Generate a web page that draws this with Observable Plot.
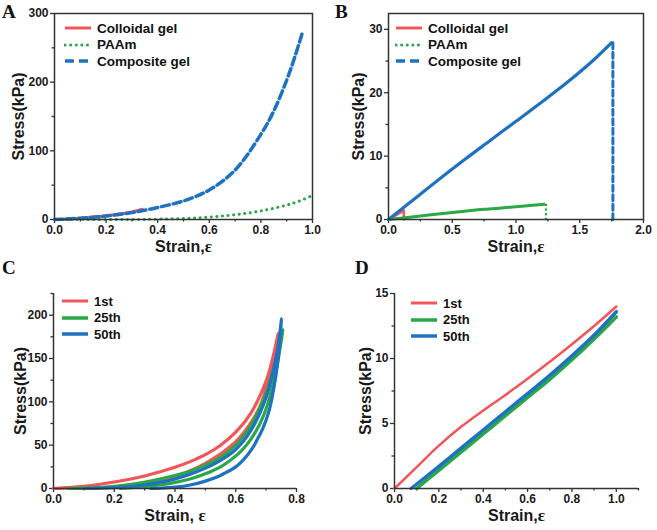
<!DOCTYPE html>
<html>
<head>
<meta charset="utf-8">
<script src="https://cdn.jsdelivr.net/npm/d3@7"></script>
<script src="https://cdn.jsdelivr.net/npm/@observablehq/plot@0.6"></script>
<style>
  body { margin: 0; background: #fff; }
  #root { position: relative; width: 657px; height: 530px; overflow: hidden; background: #fff; }
  .panel { position: absolute; }
  .letter { position: absolute; font: bold 19px "Liberation Serif", "Times New Roman", serif; color: #111; line-height: 1; }
  .legend { position: absolute; font: bold 13.5px "Liberation Sans", Arial, sans-serif; color: #111; }
  .legend.small { font-size: 13px; }
  .legend .row { display: flex; align-items: center; height: 16.5px; white-space: nowrap; }
  .legend svg { display: block; margin-right: 5px; }
</style>
</head>
<body>
<div id="root"></div>
<script>
// ---------------- DATA ----------------
// Panel A (compression, strain vs stress kPa)
const colloidalA = [[0,0],[0.05,0.8],[0.1,2],[0.15,3.5],[0.2,5.5],[0.25,8],[0.3,11],[0.34,15]];
const paamA = [[0,0],[0.3,0],[0.4,0.5],[0.5,1.5],[0.6,3.5],[0.7,7],[0.8,12.5],[0.9,21],[0.95,27],[1.0,35]];
const compositeA = [[0,0],[0.1,1.8],[0.2,5],[0.3,10],[0.35,13.5],[0.4,17.5],[0.5,27],[0.6,43],[0.7,72],[0.8,124],[0.85,158],[0.9,203],[0.93,235],[0.963,275]];

// Panel B (tension)
const colloidalB = [[0,0],[0.06,0.7],[0.118,1.4]];
const colloidalBDrop = [[0.12,1.4],[0.12,0]];
const paamB = [[0,0],[0.25,0.55],[0.5,1.1],[0.75,1.6],[1.0,2.0],[1.22,2.4]];
const paamBDrop = [[1.235,2.3],[1.235,0]];
const compositeB = [[0,0],[0.2,3.2],[0.4,6.4],[0.6,9.5],[0.8,12.5],[1.0,15.5],[1.2,18.5],[1.4,21.6],[1.6,25.0],[1.75,27.9]];
const compositeBDrop = [[1.76,27.9],[1.76,0]];

// Panel C (cyclic compression, loading + unloading)
const cycle1Load = [[0,0],[0.1,2.5],[0.2,7.5],[0.3,14.5],[0.4,24.5],[0.45,31],[0.5,39],[0.55,50],[0.6,65],[0.65,87],[0.7,124],[0.72,148],[0.74,179]];
const cycle1Unload = [[0.74,179],[0.73,160],[0.72,143],[0.7,115],[0.68,95],[0.65,76],[0.6,54],[0.55,40],[0.5,29],[0.45,20.5],[0.4,14],[0.35,9],[0.3,5],[0.2,1.5],[0.1,0.2],[0.05,0]];
const cycle25Load = [[0.05,0],[0.15,1],[0.25,4.5],[0.35,11],[0.45,20],[0.5,27],[0.55,36],[0.6,50],[0.65,73],[0.7,110],[0.72,133],[0.74,160],[0.755,183]];
const cycle25Unload = [[0.755,183],[0.745,160],[0.735,140],[0.72,116],[0.7,92],[0.68,75],[0.65,57],[0.62,44],[0.58,32],[0.55,25],[0.5,17],[0.45,11],[0.4,7],[0.35,4],[0.3,2],[0.22,0]];
const cycle50Load = [[0.1,0],[0.2,1],[0.3,4],[0.35,7],[0.4,11],[0.45,16.5],[0.5,23.5],[0.55,32.5],[0.6,45],[0.65,67],[0.7,105],[0.725,138],[0.74,165],[0.751,196]];
const cycle50Unload = [[0.751,196],[0.746,172],[0.738,145],[0.725,115],[0.71,90],[0.69,70],[0.67,56],[0.654,46],[0.625,33],[0.6,25],[0.56,17],[0.54,13.5],[0.5,8.5],[0.45,4],[0.4,1.5],[0.35,0.3],[0.32,0]];

// Panel D (cyclic tension)
const cycle1D = [[0,0],[0.1,1.65],[0.2,3.3],[0.3,4.75],[0.4,6.0],[0.5,7.2],[0.6,8.45],[0.7,9.75],[0.8,11.1],[0.9,12.5],[1.0,14.0]];
const cycle25D = [[0.1,0],[0.2,1.4],[0.3,2.8],[0.4,4.2],[0.5,5.6],[0.6,7.0],[0.7,8.4],[0.8,9.9],[0.9,11.5],[1.0,13.2]];
const cycle50D = [[0.075,0],[0.2,1.7],[0.3,3.1],[0.4,4.5],[0.5,5.9],[0.6,7.3],[0.7,8.7],[0.8,10.2],[0.9,11.8],[1.0,13.6]];

// Tick values
const ticksA = {x: [0,0.2,0.4,0.6,0.8,1.0], xMinor: [0.1,0.3,0.5,0.7,0.9], y: [0,100,200,300], yMinor: [50,150,250]};
const ticksB = {x: [0,0.5,1.0,1.5,2.0], xMinor: [0.25,0.75,1.25,1.75], y: [0,10,20,30], yMinor: [5,15,25]};
const ticksC = {x: [0,0.2,0.4,0.6,0.8], xMinor: [0.1,0.3,0.5,0.7], y: [0,50,100,150,200], yMinor: [25,75,125,175,225]};
const ticksD = {x: [0,0.2,0.4,0.6,0.8,1.0], xMinor: [0.1,0.3,0.5,0.7,0.9,1.1], y: [0,5,10,15], yMinor: [2.5,7.5,12.5]};

// Legend labels
const legendAB = ["Colloidal gel", "PAAm", "Composite gel"];
const legendCD = ["1st", "25th", "50th"];

// ---------------- STYLE ----------------
const RED = "#f0565a", GREEN = "#2aa845", BLUE = "#1f71c1", INK = "#1a1a1a", AXIS = "#333";
const FONT = "'Liberation Sans', Arial, Helvetica, sans-serif";
const ns = "http://www.w3.org/2000/svg";
const root = document.getElementById("root");

function axes(t, yFmt, xFmt, tickLen) {
  return [
    Plot.axisX({ticks: t.xMinor, tickSize: 2.5, tickFormat: () => "", label: null, stroke: AXIS, strokeWidth: 1.3}),
    Plot.axisY({ticks: t.yMinor, tickSize: 2.5, tickFormat: () => "", label: null, stroke: AXIS, strokeWidth: 1.3}),
    Plot.axisX({ticks: t.x, tickSize: tickLen, tickPadding: 2, tickFormat: xFmt, label: null, stroke: AXIS, strokeWidth: 1.3, fill: INK, fontSize: 12, fontWeight: "bold"}),
    Plot.axisY({ticks: t.y, tickSize: tickLen, tickPadding: 2, tickFormat: yFmt, label: null, stroke: AXIS, strokeWidth: 1.3, fill: INK, fontSize: 12, fontWeight: "bold"})
  ];
}
function titles(xl, yl, xdy, ydx) {
  return [
    Plot.text([xl], {text: d => d, frameAnchor: "bottom", dy: xdy, lineAnchor: "middle", textAnchor: "middle", fontSize: 16, fontWeight: "bold", fill: INK}),
    Plot.text([yl], {text: d => d, frameAnchor: "left", dx: ydx, rotate: -90, lineAnchor: "middle", textAnchor: "middle", fontSize: 16, fontWeight: "bold", fill: INK})
  ];
}
function fixEpsilon(svg) {
  svg.querySelectorAll("text").forEach(t => {
    const s = t.textContent, i = s.indexOf("ε");
    if (i >= 0 && t.children.length === 0) {
      t.textContent = "";
      const a = document.createElementNS(ns, "tspan"); a.textContent = s.slice(0, i);
      const b = document.createElementNS(ns, "tspan"); b.textContent = "ε";
      b.setAttribute("font-family", "'Liberation Serif', 'Times New Roman', serif");
      b.setAttribute("font-size", "17");
      t.append(a, b);
    }
  });
}
function place(el, left, top) {
  const d = document.createElement("div");
  d.className = "panel"; d.style.left = left + "px"; d.style.top = top + "px";
  d.append(el); root.append(d);
}
function letter(ch, left, top) {
  const d = document.createElement("div");
  d.className = "letter"; d.textContent = ch; d.style.left = left + "px"; d.style.top = top + "px";
  root.append(d);
}
function legend(labels, styles, left, top, cls) {
  const d = document.createElement("div");
  d.className = "legend" + (cls ? " " + cls : ""); d.style.left = left + "px"; d.style.top = top + "px";
  labels.forEach((lab, i) => {
    const st = styles[i];
    const row = document.createElement("div"); row.className = "row";
    const s = d3.create("svg").attr("width", 28).attr("height", 8);
    s.append("line").attr("x1", 1).attr("x2", 27).attr("y1", 4).attr("y2", 4)
      .attr("stroke", st.color).attr("stroke-width", st.width)
      .attr("stroke-dasharray", st.dash || null).attr("stroke-linecap", st.cap || "butt");
    row.append(s.node());
    const sp = document.createElement("span"); sp.textContent = lab; row.append(sp);
    d.append(row);
  });
  root.append(d);
}
const style = {fontFamily: FONT, fontWeight: "bold", color: INK, background: "transparent", overflow: "visible"};
const f1 = d3.format(".1f"), f0 = d3.format("d");
const XY = {x: d => d[0], y: d => d[1]};

// ---------------- PANEL A ----------------
const pA = Plot.plot({
  width: 328, height: 260, marginLeft: 54, marginRight: 16, marginTop: 13, marginBottom: 41,
  x: {domain: [0, 1]}, y: {domain: [0, 300]}, style,
  marks: [
    ...axes(ticksA, f0, f1, 4),
    Plot.line(colloidalA, {...XY, stroke: RED, strokeWidth: 3, curve: "catmull-rom"}),
    Plot.line(paamA, {...XY, stroke: GREEN, strokeWidth: 3, strokeDasharray: "0.1,5.5", strokeLinecap: "round", curve: "catmull-rom"}),
    Plot.line(compositeA, {...XY, stroke: BLUE, strokeWidth: 3.5, strokeDasharray: "8,4", curve: "catmull-rom"}),
    Plot.frame({stroke: AXIS, strokeWidth: 1.5}),
    ...titles("Strain,ε", "Stress(kPa)", 27, -36)
  ]
});
fixEpsilon(pA); place(pA, 0, 0);

// ---------------- PANEL B ----------------
const pB = Plot.plot({
  width: 329, height: 260, marginLeft: 60, marginRight: 14, marginTop: 13, marginBottom: 41,
  x: {domain: [0, 2]}, y: {domain: [0, 32.5]}, style,
  marks: [
    ...axes(ticksB, f0, f1, 4),
    Plot.line(colloidalB, {...XY, stroke: RED, strokeWidth: 2.5}),
    Plot.line(colloidalBDrop, {...XY, stroke: RED, strokeWidth: 2.5}),
    Plot.line(paamB, {...XY, stroke: GREEN, strokeWidth: 3, curve: "catmull-rom"}),
    Plot.line(paamBDrop, {...XY, stroke: GREEN, strokeWidth: 2.5, strokeDasharray: "0.1,4.5", strokeLinecap: "round"}),
    Plot.line(compositeB, {...XY, stroke: BLUE, strokeWidth: 3.2, curve: "catmull-rom"}),
    Plot.line(compositeBDrop, {...XY, stroke: BLUE, strokeWidth: 3, strokeDasharray: "6,3.5"}),
    Plot.frame({stroke: AXIS, strokeWidth: 1.5}),
    ...titles("Strain,ε", "Stress(kPa)", 27, -30)
  ]
});
fixEpsilon(pB); place(pB, 328, 0);

// ---------------- PANEL C ----------------
const pC = Plot.plot({
  width: 328, height: 270, marginLeft: 53, marginRight: 32, marginTop: 33, marginBottom: 42,
  x: {domain: [0, 0.8]}, y: {domain: [0, 225]}, style,
  marks: [
    ...axes(ticksC, f0, f1, 4),
    Plot.line(cycle1Load.concat(cycle1Unload.slice(1)), {...XY, stroke: RED, strokeWidth: 3.2, curve: "catmull-rom"}),
    Plot.line(cycle25Load.concat(cycle25Unload.slice(1)), {...XY, stroke: GREEN, strokeWidth: 3.2, curve: "catmull-rom"}),
    Plot.line(cycle50Load.concat(cycle50Unload.slice(1)), {...XY, stroke: BLUE, strokeWidth: 3.2, curve: "catmull-rom"}),
    Plot.ruleY([0], {stroke: AXIS, strokeWidth: 1.5}),
    Plot.ruleX([0], {stroke: AXIS, strokeWidth: 1.5}),
    ...titles("Strain, ε", "Stress(kPa)", 27, -33)
  ]
});
fixEpsilon(pC); place(pC, 0, 260);

// ---------------- PANEL D ----------------
const pD = Plot.plot({
  width: 329, height: 270, marginLeft: 66, marginRight: 19, marginTop: 33, marginBottom: 42,
  x: {domain: [0, 1.1]}, y: {domain: [0, 15]}, style,
  marks: [
    ...axes(ticksD, f0, f1, 4),
    Plot.line(cycle1D, {...XY, stroke: RED, strokeWidth: 2.5, curve: "catmull-rom"}),
    Plot.line(cycle25D, {...XY, stroke: GREEN, strokeWidth: 3.5, curve: "catmull-rom"}),
    Plot.line(cycle50D, {...XY, stroke: BLUE, strokeWidth: 3.5, curve: "catmull-rom"}),
    Plot.ruleY([0], {stroke: AXIS, strokeWidth: 1.5}),
    Plot.ruleX([0], {stroke: AXIS, strokeWidth: 1.5}),
    ...titles("Strain,ε", "Stress(kPa)", 27, -29)
  ]
});
fixEpsilon(pD); place(pD, 328, 260);

// ---------------- LEGENDS & LETTERS ----------------
const stylesAB = [
  {color: RED, width: 3},
  {color: GREEN, width: 3, dash: "0.1,5.5", cap: "round"},
  {color: BLUE, width: 3.5, dash: "9,5"}
];
const stylesCD = [{color: RED, width: 3}, {color: GREEN, width: 3.5}, {color: BLUE, width: 3.5}];
legend(legendAB, stylesAB, 64, 20);
legend(legendAB, stylesAB, 395, 20);
legend(legendCD, stylesCD, 61, 293, "small");
legend(legendCD, stylesCD, 410, 295, "small");
letter("A", 2, 2);
letter("B", 335, 2);
letter("C", 2, 258);
letter("D", 355, 258);
</script>
</body>
</html>
